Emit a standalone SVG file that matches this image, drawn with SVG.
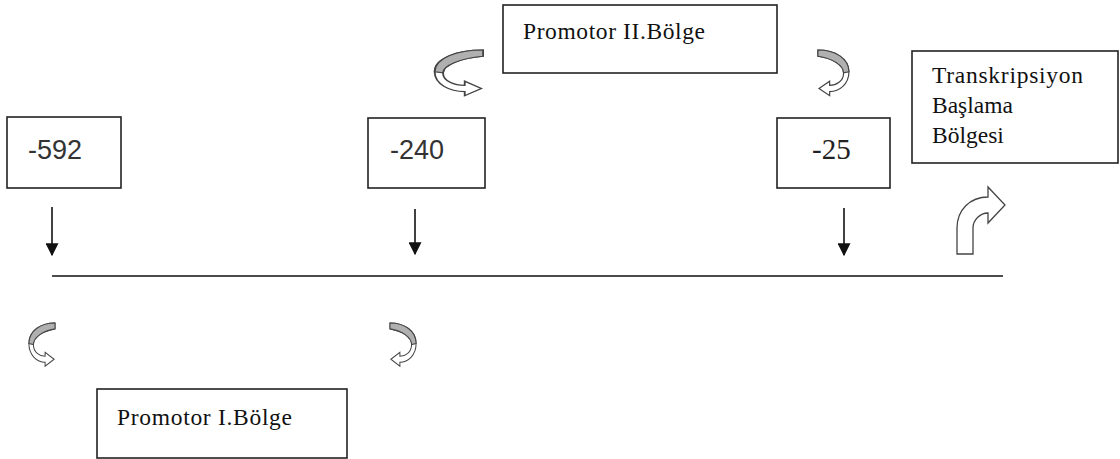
<svg xmlns="http://www.w3.org/2000/svg" width="1120" height="459" viewBox="0 0 1120 459">
<style>
.box{fill:#fff;stroke:#222;stroke-width:1.6}
.num{font-family:"Liberation Sans",Arial,sans-serif;font-size:27px;fill:#333}
.numS{font-family:"Liberation Serif","Times New Roman",serif;font-size:29px;fill:#222}
.lbl{font-family:"Liberation Serif","Times New Roman",serif;font-size:23.5px;fill:#111}
.conn{stroke:#111;stroke-width:1.6;fill:none}
.rib{fill:#fff;stroke:#444;stroke-width:1.1}
.ribg{fill:#b0b0b0;stroke:#444;stroke-width:1.1}
</style>
<defs>
<marker id="ah" viewBox="0 0 10 10" refX="9" refY="5" markerWidth="15" markerHeight="13" markerUnits="userSpaceOnUse" orient="auto">
<path d="M0,0 L10,5 L0,10 Z" fill="#111"/>
</marker>
<g id="ribbon">
<path class="rib" d="M30,0 C14,0 1,8 1,21 C1,33 10,40 19,40 L19,44 L29,37 L19,30 L19,34 C13,34 6,30 6,22 C6,15 16,8 30,6 Z"/>
<path class="ribg" d="M30,0 C14,0 1,8 1,21 L6,22 C6,15 16,8 30,6 Z"/>
</g>
</defs>

<g id="connectors">
<line class="conn" x1="52" y1="276" x2="1003" y2="276"/>
<line class="conn" x1="52" y1="207" x2="52" y2="255" marker-end="url(#ah)"/>
<line class="conn" x1="415" y1="209" x2="415" y2="254" marker-end="url(#ah)"/>
<line class="conn" x1="844" y1="208" x2="844" y2="255" marker-end="url(#ah)"/>
</g>

<g id="node-promotor2">
<rect class="box" x="503" y="5" width="274" height="68"/>
<text class="lbl" x="523" y="39" textLength="182" lengthAdjust="spacing">Promotor II.Bölge</text>
</g>

<g id="node-592">
<rect class="box" x="7" y="117" width="114" height="71"/>
<text class="num" x="28" y="159">-592</text>
</g>

<g id="node-240">
<rect class="box" x="368" y="118" width="117" height="70"/>
<text class="num" x="390" y="159">-240</text>
</g>

<g id="node-25">
<rect class="box" x="777" y="118" width="113" height="70"/>
<text class="numS" x="812" y="159">-25</text>
</g>

<g id="node-transkripsiyon">
<rect class="box" x="912" y="51" width="206" height="112"/>
<text class="lbl" x="932" y="83" textLength="151" lengthAdjust="spacing">Transkripsiyon</text>
<text class="lbl" x="932" y="113">Başlama</text>
<text class="lbl" x="932" y="143">Bölgesi</text>
</g>

<g id="node-promotor1">
<rect class="box" x="97" y="389" width="250" height="69"/>
<text class="lbl" x="117" y="425" textLength="175" lengthAdjust="spacing">Promotor I.Bölge</text>
</g>

<g id="curved-arrows">
<use href="#ribbon" transform="translate(433,50) scale(1.67,1.04)"/>
<use href="#ribbon" transform="translate(850,50) scale(-1.07,1.04)"/>
<use href="#ribbon" transform="translate(28,323) scale(0.9,0.98)"/>
<use href="#ribbon" transform="translate(417,323) scale(-0.9,0.98)"/>
</g>

<g id="start-arrow">
<path fill="#fff" stroke="#444" stroke-width="1.3" d="M957,254 L957,228 C957,210 970,197 988,197 L988,187 L1005,205 L988,223 L988,213 C980,213 973,220 973,228 L973,254 Z"/>
</g>
</svg>
